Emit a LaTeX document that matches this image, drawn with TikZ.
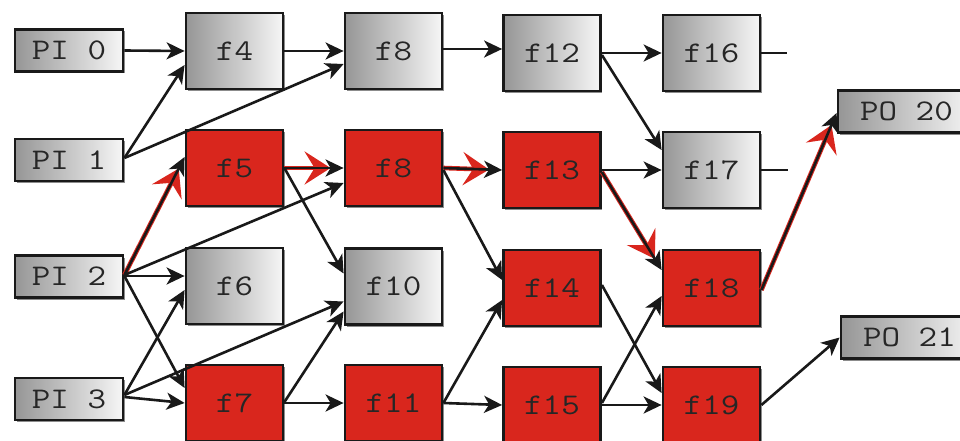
\documentclass[tikz,border=0pt]{standalone}
\usepackage{graphicx}
\usetikzlibrary{arrows.meta,calc,shadows}
\definecolor{hred}{RGB}{217,38,29}
\definecolor{gleft}{RGB}{150,150,150}
\definecolor{gright}{RGB}{246,246,246}
\newcommand{\lbl}[1]{\scalebox{1.2}[1]{#1}}
\tikzset{
  base/.style={draw=black!90, line width=2.8pt, inner sep=0pt,
    font=\fontsize{30}{30}\selectfont\ttfamily, text=black!85,
    drop shadow={shadow xshift=1.5pt, shadow yshift=-2pt, fill=black!45, opacity=1}},
  gbox/.style={base, left color=gleft, right color=gright, minimum width=97pt, minimum height=76pt},
  rbox/.style={base, fill=hred, minimum width=97pt, minimum height=76pt},
  iobox/.style={base, left color=gleft, right color=gright, minimum width=108pt, minimum height=42pt},
  pobox/.style={base, left color=gleft, right color=gright, minimum width=137pt, minimum height=42pt},
  arr/.style={draw=black!90, line width=2.6pt, -{Stealth[length=18pt,width=17pt,inset=5pt]}},
  hl/.style={draw=hred, line width=4.6pt, -{Stealth[length=26pt,width=33pt,inset=10pt]}, shorten >=13pt},
  stub/.style={draw=black!90, line width=2.6pt}
}
\begin{document}
\begin{tikzpicture}[x=1pt,y=-1pt]
\clip (0,0) rectangle (960,441);
\fill[white] (0,0) rectangle (960,441);
% inputs
\node[iobox] (pi0) at (69,50.5) {\lbl{PI 0}};
\node[iobox] (pi1) at (69,160) {\lbl{PI 1}};
\node[iobox] (pi2) at (69,276.5) {\lbl{PI 2}};
\node[iobox] (pi3) at (69,399) {\lbl{PI 3}};
% column 1
\node[gbox] (f4) at (234.5,51) {\lbl{f4}};
\node[rbox] (f5) at (234.5,168) {\lbl{f5}};
\node[gbox] (f6) at (234.5,286) {\lbl{f6}};
\node[rbox] (f7) at (234.5,403) {\lbl{f7}};
% column 2
\node[gbox] (f8a) at (393.5,51) {\lbl{f8}};
\node[rbox] (f8b) at (393.5,168) {\lbl{f8}};
\node[gbox] (f10) at (393.5,286.5) {\lbl{f10}};
\node[rbox] (f11) at (393.5,403) {\lbl{f11}};
% column 3
\node[gbox] (f12) at (552,53) {\lbl{f12}};
\node[rbox] (f13) at (552,170) {\lbl{f13}};
\node[rbox] (f14) at (552,288) {\lbl{f14}};
\node[rbox] (f15) at (552,405) {\lbl{f15}};
% column 4
\node[gbox] (f16) at (711.5,53) {\lbl{f16}};
\node[gbox] (f17) at (711.5,170) {\lbl{f17}};
\node[rbox] (f18) at (711.5,288) {\lbl{f18}};
\node[rbox] (f19) at (711.5,405) {\lbl{f19}};
% outputs
\node[pobox] (po20) at (906.5,111.5) {\lbl{PO 20}};
\node[pobox] (po21) at (909.5,337.5) {\lbl{PO 21}};
% highlighted path (red underlay)
\draw[hl] ($(pi2.east)+(0,-1.5)$) -- ($(f5.west)+(0,-11)$);
\draw[hl] (f5.east) -- (f8b.west);
\draw[hl] (f8b.east) -- (f13.west);
\draw[hl] ($(f13.east)+(0,2)$) -- ($(f18.west)+(0,-18)$);
\draw[hl] ($(f18.east)+(0,2)$) -- ($(po20.west)+(0,1.5)$);
% connectors
\draw[arr] (pi0.east) -- (f4.west);
\draw[arr] ($(pi1.east)+(0,-2)$) -- ($(f4.west)+(0,14)$);
\draw[arr] ($(pi1.east)+(0,-2)$) -- ($(f8a.west)+(0,13)$);
\draw[arr] (f4.east) -- (f8a.west);
\draw[arr] ($(f8a.east)+(0,-2)$) -- ($(f12.west)+(0,-4)$);
\draw[arr] (f12.east) -- (f16.west);
\draw[arr] ($(f12.east)+(0,2)$) -- ($(f17.west)+(0,-20)$);
\draw[arr] (f13.east) -- (f17.west);
\draw[arr] ($(f13.east)+(0,2)$) -- ($(f18.west)+(0,-18)$);
\draw[arr] ($(pi2.east)+(0,-1.5)$) -- ($(f5.west)+(0,-11)$);
\draw[arr] ($(pi2.east)+(0,-1.5)$) -- ($(f8b.west)+(0,15)$);
\draw[arr] ($(pi2.east)+(0,-0.5)$) -- ($(f6.west)+(0,-10)$);
\draw[arr] ($(pi2.east)+(0,-0.5)$) -- ($(f7.west)+(0,-15)$);
\draw[arr] ($(pi3.east)+(0,-4)$) -- ($(f6.west)+(0,4)$);
\draw[arr] ($(pi3.east)+(0,-4)$) -- ($(f10.west)+(0,15)$);
\draw[arr] ($(pi3.east)+(0,-2)$) -- (f7.west);
\draw[arr] (f5.east) -- ($(f10.west)+(0,-13)$);
\draw[arr] (f5.east) -- (f8b.west);
\draw[arr] ($(f7.east)+(0,-1)$) -- ($(f10.west)+(0,25)$);
\draw[arr] (f7.east) -- (f11.west);
\draw[arr] (f8b.east) -- (f13.west);
\draw[arr] ($(f8b.east)+(0,2)$) -- ($(f14.west)+(0,-8)$);
\draw[arr] (f11.east) -- ($(f14.west)+(0,12)$);
\draw[arr] (f11.east) -- (f15.west);
\draw[arr] ($(f14.east)+(0,-3)$) -- ($(f19.west)+(0,-12)$);
\draw[arr] ($(f15.east)+(0,-2)$) -- ($(f18.west)+(0,8)$);
\draw[arr] (f15.east) -- (f19.west);
\draw[arr] ($(f18.east)+(0,2)$) -- ($(po20.west)+(0,1.5)$);
\draw[arr] (f19.east) -- (po21.west);
\draw[stub] (f16.east) -- ++(26,0);
\draw[stub] (f17.east) -- ++(27,0);
\end{tikzpicture}
\end{document}
